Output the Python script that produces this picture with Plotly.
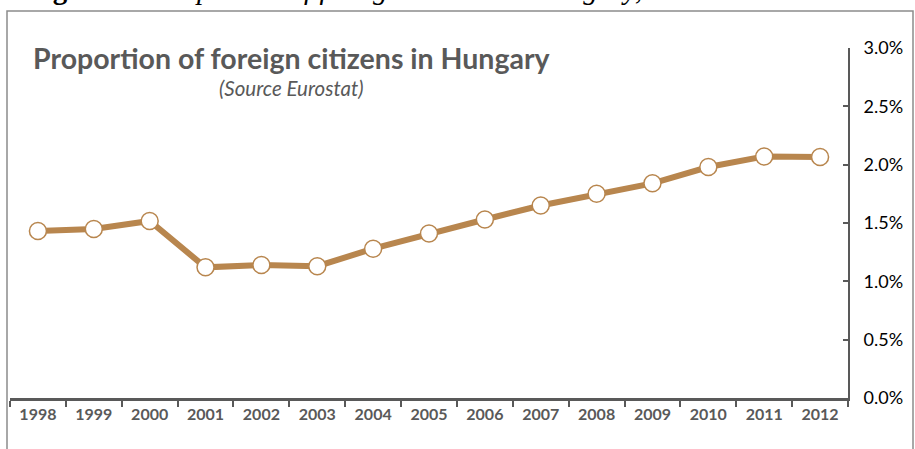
import plotly.graph_objects as go

years = ["1998", "1999", "2000", "2001", "2002", "2003", "2004", "2005",
         "2006", "2007", "2008", "2009", "2010", "2011", "2012"]
share = [0.01431, 0.01448, 0.01517, 0.01120, 0.01140, 0.01130, 0.01280, 0.01410,
         0.01530, 0.01650, 0.01750, 0.01840, 0.01980, 0.02070, 0.02065]
y_ticks = [0.0, 0.005, 0.010, 0.015, 0.020, 0.025, 0.030]

title_text = "Proportion of foreign citizens in Hungary"
subtitle_text = "(Source Eurostat)"
caption_text = "<b>Figure 2</b> - <i>Proportion of foreign citizens in Hungary,</i> <b>1998-2012</b>"

LINE = "#B8864E"
GREY = "#595959"

fig = go.Figure()
fig.add_trace(go.Scatter(
    x=years, y=share, mode="lines+markers",
    line=dict(color=LINE, width=6),
    marker=dict(size=17, color="white", line=dict(color=LINE, width=1.5)),
    showlegend=False, cliponaxis=False,
))

W, H = 915, 449
L, R, T, B = 10, 67, 48, 51
pw, ph = W - L - R, H - T - B

def px(x):
    return (x - L) / pw

def py(y):
    return (H - B - y) / ph

fig.update_layout(
    width=W, height=H,
    margin=dict(l=L, r=R, t=T, b=B, autoexpand=False),
    paper_bgcolor="white", plot_bgcolor="white",
    xaxis=dict(
        type="category", range=[-0.5, len(years) - 0.5],
        showgrid=False, showline=True, linecolor=GREY, linewidth=3,
        ticks="outside", tickson="boundaries", ticklen=6, tickwidth=2, tickcolor=GREY,
        tickfont=dict(family="Lato", size=16, color=GREY, weight="bold"),
        zeroline=False, fixedrange=True, automargin=False,
    ),
    yaxis=dict(
        side="right", range=[0, 0.03], tickvals=y_ticks, tickformat=".1%",
        showgrid=False, zeroline=False, showline=True, linecolor=GREY, linewidth=2,
        ticks="inside", ticklen=5, tickwidth=1.5, tickcolor=GREY,
        tickfont=dict(family="Lato", size=18, color="black"),
        ticklabelstandoff=10, automargin=False,
    ),
    shapes=[dict(
        type="rect", xref="paper", yref="paper",
        x0=px(7), x1=px(913), y0=py(470), y1=py(11),
        line=dict(color="#8C8C8C", width=1.5), layer="below",
    )],
    annotations=[
        dict(text=title_text, xref="paper", yref="paper", x=px(292), y=py(58),
             xanchor="center", yanchor="middle", showarrow=False,
             font=dict(family="Lato", size=28.5, color=GREY, weight="bold")),
        dict(text=subtitle_text, xref="paper", yref="paper", x=px(291), y=py(88),
             xanchor="center", yanchor="middle", showarrow=False,
             font=dict(family="Lato", size=20.5, color=GREY, style="italic")),
        dict(text=caption_text, xref="paper", yref="paper", x=px(25), y=py(7),
             xanchor="left", yanchor="bottom", showarrow=False,
             font=dict(family="Liberation Serif", size=29, color="black")),
    ],
)

fig.write_html(
    "out.html",
    config={"displayModeBar": False},
    post_script="document.body.style.margin='0';document.body.style.overflow='hidden';",
)
